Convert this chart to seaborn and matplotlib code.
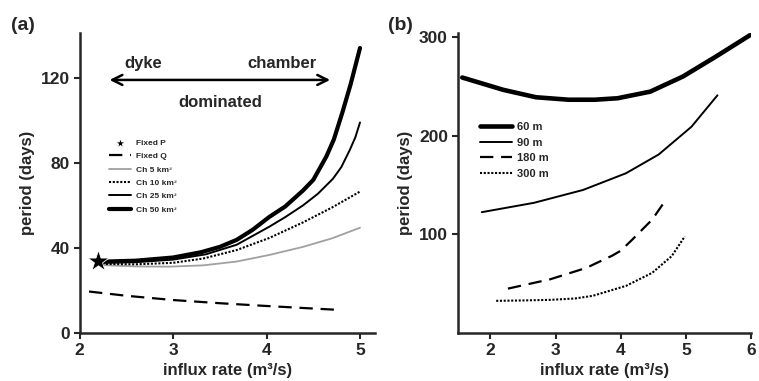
import seaborn as sns
import matplotlib.pyplot as plt

sns.set_theme(style="ticks")
plt.rcParams['font.family'] = ['Liberation Sans', 'DejaVu Sans']
plt.rcParams['font.weight'] = 'bold'

# panel (a): period vs influx rate for chamber volumes
star_x = [2.2]
star_y = [34]

fixed_q_x = [2.1, 2.5, 3.0, 3.5, 4.0, 4.5, 4.8]
fixed_q_y = [19.5, 17.5, 15.5, 14.0, 12.7, 11.5, 10.8]

ch5_x = [2.2, 2.6, 2.96, 3.32, 3.68, 4.03, 4.39, 4.7, 5.0]
ch5_y = [32.0, 31.3, 31.2, 31.8, 33.6, 36.7, 40.5, 44.5, 49.5]

ch10_x = [2.2, 2.6, 3.0, 3.32, 3.68, 4.03, 4.39, 4.7, 5.0]
ch10_y = [32.5, 32.3, 33.0, 35.0, 39.0, 44.7, 52.0, 59.0, 66.5]

ch25_x = [2.2, 2.6, 3.0, 3.35, 3.68, 4.03, 4.2, 4.39, 4.55, 4.71, 4.8, 4.89, 4.95, 5.0]
ch25_y = [33.0, 33.3, 34.5, 37.0, 41.5, 50.0, 54.5, 60.0, 65.5, 72.5, 78.0, 86.0, 92.0, 99.0]

ch50_x = [2.2, 2.6, 3.0, 3.3, 3.5, 3.68, 3.85, 4.03, 4.2, 4.39, 4.5, 4.64, 4.72, 4.81, 4.9, 5.0]
ch50_y = [33.5, 34.0, 35.5, 38.0, 40.5, 43.8, 48.5, 54.6, 59.5, 67.0, 72.0, 83.0, 91.0, 103.5, 117.0, 134.0]

# panel (b): period vs influx rate for dyke widths
w60_x = [1.57, 2.2, 2.7, 3.2, 3.6, 3.95, 4.45, 4.95, 5.45, 5.98]
w60_y = [259, 246.5, 239, 236.5, 236.5, 238, 244.7, 260, 280, 302]

w90_x = [1.87, 2.67, 3.42, 4.08, 4.58, 5.08, 5.48]
w90_y = [122.5, 132, 145, 162, 181, 209, 241]

w180_x = [2.27, 2.92, 3.47, 3.87, 4.0, 4.18, 4.48, 4.70]
w180_y = [45, 54.5, 66, 78.5, 83.5, 95, 115, 136]

w300_x = [2.09, 2.5, 2.92, 3.3, 3.57, 4.08, 4.48, 4.78, 4.98]
w300_y = [32.6, 33, 33.6, 35, 37.7, 47.8, 61, 78, 98]

fig = plt.figure(figsize=(7.59, 3.81), dpi=100)
ax1 = fig.add_axes([0.105, 0.126, 0.389, 0.787])
ax2 = fig.add_axes([0.603, 0.126, 0.387, 0.787])

# (a)
sns.lineplot(x=fixed_q_x, y=fixed_q_y, ax=ax1, color='black', linewidth=1.6,
             linestyle=(0, (6, 3.5)), label='Fixed Q')
sns.lineplot(x=ch5_x, y=ch5_y, ax=ax1, color='#a0a0a0', linewidth=1.3, label='Ch 5 km³')
sns.lineplot(x=ch10_x, y=ch10_y, ax=ax1, color='black', linewidth=1.5,
             linestyle=(0, (1, 0.8)), label='Ch 10 km³')
sns.lineplot(x=ch25_x, y=ch25_y, ax=ax1, color='black', linewidth=1.4, label='Ch 25 km³')
sns.lineplot(x=ch50_x, y=ch50_y, ax=ax1, color='black', linewidth=3.0, label='Ch 50 km³')
sns.scatterplot(x=star_x, y=star_y, ax=ax1, marker='*', s=260, color='black',
                edgecolor='white', linewidth=0.6, label='Fixed P', zorder=5)

ax1.set_xlim(2, 5.16)
ax1.set_ylim(0, 141)
ax1.set_xticks([2, 3, 4, 5])
ax1.set_yticks([0, 40, 80, 120])
ax1.set_xlabel('influx rate (m³/s)', fontsize=12, fontweight='bold')
ax1.set_ylabel('period (days)', fontsize=12, fontweight='bold')

ax1.annotate('', xy=(2.29, 119), xytext=(4.71, 119),
             arrowprops=dict(arrowstyle='<->', color='black', lw=1.8, mutation_scale=18))
ax1.text(2.68, 124.7, 'dyke', fontsize=12, fontweight='bold', ha='center', va='baseline')
ax1.text(4.16, 124.7, 'chamber', fontsize=12, fontweight='bold', ha='center', va='baseline')
ax1.text(3.5, 106.3, 'dominated', fontsize=12, fontweight='bold', ha='center', va='baseline')

h, l = ax1.get_legend_handles_labels()
order = ['Fixed P', 'Fixed Q', 'Ch 5 km³', 'Ch 10 km³', 'Ch 25 km³', 'Ch 50 km³']
hl = dict(zip(l, h))
ax1.legend([hl[k] for k in order], order, loc='upper left', bbox_to_anchor=(0.088, 0.658),
           borderaxespad=0, frameon=False, fontsize=6, handlelength=2.6, labelspacing=0.66,
           handletextpad=0.6, markerscale=0.45)

# (b)
sns.lineplot(x=w60_x, y=w60_y, ax=ax2, color='black', linewidth=3.3, label='60 m')
sns.lineplot(x=w90_x, y=w90_y, ax=ax2, color='black', linewidth=1.4, label='90 m')
sns.lineplot(x=w180_x, y=w180_y, ax=ax2, color='black', linewidth=1.6,
             linestyle=(0, (6, 3.5)), label='180 m')
sns.lineplot(x=w300_x, y=w300_y, ax=ax2, color='black', linewidth=1.5,
             linestyle=(0, (1, 0.8)), label='300 m')

ax2.set_xlim(1.5, 6)
ax2.set_ylim(0, 304)
ax2.set_xticks([2, 3, 4, 5, 6])
ax2.set_yticks([100, 200, 300])
ax2.set_xlabel('influx rate (m³/s)', fontsize=12, fontweight='bold')
ax2.set_ylabel('period (days)', fontsize=12, fontweight='bold')
ax2.legend(loc='upper left', bbox_to_anchor=(0.06, 0.718), borderaxespad=0, frameon=False,
           fontsize=8, handlelength=2.9, labelspacing=0.5, handletextpad=0.45)

for ax in (ax1, ax2):
    sns.despine(ax=ax)
    ax.spines['left'].set_linewidth(1.8)
    ax.spines['bottom'].set_linewidth(1.8)
    ax.tick_params(width=1.5, length=4, labelsize=12.5, pad=3)
    for t in ax.get_xticklabels() + ax.get_yticklabels():
        t.set_fontweight('bold')

fig.text(0.014, 0.92, '(a)', fontsize=14, fontweight='bold')
fig.text(0.511, 0.92, '(b)', fontsize=14, fontweight='bold')

plt.savefig('out.png', dpi=100)
